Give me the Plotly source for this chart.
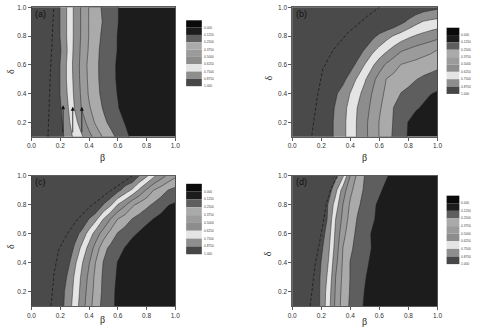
import plotly.graph_objects as go

W, H = 480, 331

beta = [0.0, 0.05, 0.1, 0.15, 0.2, 0.25, 0.3, 0.35, 0.4, 0.45, 0.5,
        0.55, 0.6, 0.65, 0.7, 0.75, 0.8, 0.85, 0.9, 0.95, 1.0]
delta = [0.1, 0.2, 0.3, 0.4, 0.5, 0.6, 0.7, 0.8, 0.9, 1.0]

# z rows: one per delta (ascending), one value per beta
z_a = [
    [1, 1, 1, 1, 0.93, 0.82, 0.72, 0.64, 0.54, 0.45, 0.36, 0.29, 0.225, 0.16, 0.10, 0.05, 0, 0, 0, 0, 0],
    [1, 1, 1, 1, 0.91, 0.79, 0.67, 0.56, 0.45, 0.35, 0.28, 0.22, 0.17, 0.12, 0.06, 0, 0, 0, 0, 0, 0],
    [1, 1, 1, 1, 0.89, 0.77, 0.62, 0.49, 0.39, 0.31, 0.24, 0.19, 0.135, 0.07, 0, 0, 0, 0, 0, 0, 0],
    [1, 1, 1, 1, 0.87, 0.745, 0.60, 0.475, 0.36, 0.28, 0.22, 0.17, 0.12, 0.06, 0, 0, 0, 0, 0, 0, 0],
    [1, 1, 1, 1, 0.87, 0.73, 0.59, 0.46, 0.35, 0.27, 0.215, 0.165, 0.11, 0.05, 0, 0, 0, 0, 0, 0, 0],
    [1, 1, 1, 1, 0.87, 0.73, 0.58, 0.46, 0.34, 0.27, 0.21, 0.16, 0.11, 0.05, 0, 0, 0, 0, 0, 0, 0],
    [1, 1, 1, 1, 0.89, 0.745, 0.59, 0.47, 0.36, 0.275, 0.215, 0.17, 0.12, 0.06, 0, 0, 0, 0, 0, 0, 0],
    [1, 1, 1, 1, 0.87, 0.735, 0.60, 0.48, 0.37, 0.29, 0.225, 0.175, 0.12, 0.06, 0, 0, 0, 0, 0, 0, 0],
    [1, 1, 1, 1, 0.87, 0.735, 0.60, 0.48, 0.37, 0.30, 0.24, 0.19, 0.13, 0.065, 0, 0, 0, 0, 0, 0, 0],
    [1, 1, 1, 1, 0.87, 0.735, 0.60, 0.48, 0.37, 0.29, 0.23, 0.18, 0.13, 0.07, 0, 0, 0, 0, 0, 0, 0],
]
z_b = [
    [1, 1, 1, 1, 1, 0.92, 0.85, 0.78, 0.70, 0.61, 0.53, 0.45, 0.37, 0.30, 0.23, 0.17, 0.115, 0.06, 0, 0, 0],
    [1, 1, 1, 1, 1, 0.92, 0.85, 0.78, 0.70, 0.61, 0.53, 0.45, 0.37, 0.30, 0.24, 0.18, 0.12, 0.07, 0.02, 0, 0],
    [1, 1, 1, 1, 1, 0.93, 0.86, 0.79, 0.71, 0.62, 0.55, 0.47, 0.39, 0.32, 0.245, 0.21, 0.18, 0.14, 0.11, 0.08, 0.05],
    [1, 1, 1, 1, 1, 1, 0.89, 0.82, 0.745, 0.66, 0.58, 0.495, 0.41, 0.35, 0.30, 0.245, 0.22, 0.19, 0.16, 0.13, 0.11],
    [1, 1, 1, 1, 1, 1, 1, 0.91, 0.82, 0.73, 0.64, 0.54, 0.45, 0.37, 0.34, 0.31, 0.285, 0.255, 0.23, 0.21, 0.19],
    [1, 1, 1, 1, 1, 1, 1, 1, 0.93, 0.84, 0.745, 0.65, 0.555, 0.48, 0.42, 0.37, 0.35, 0.335, 0.315, 0.30, 0.28],
    [1, 1, 1, 1, 1, 1, 1, 1, 1, 0.94, 0.86, 0.78, 0.71, 0.64, 0.575, 0.51, 0.48, 0.45, 0.425, 0.40, 0.37],
    [1, 1, 1, 1, 1, 1, 1, 1, 1, 1, 1, 0.91, 0.85, 0.795, 0.74, 0.695, 0.65, 0.615, 0.59, 0.565, 0.54],
    [1, 1, 1, 1, 1, 1, 1, 1, 1, 1, 1, 1, 1, 1, 0.97, 0.91, 0.85, 0.79, 0.745, 0.725, 0.71],
    [1, 1, 1, 1, 1, 1, 1, 1, 1, 1, 1, 1, 1, 1, 1, 1, 1, 0.97, 0.94, 0.92, 0.90],
]
z_c = [
    [1, 1, 1, 1, 0.93, 0.82, 0.70, 0.56, 0.425, 0.30, 0.215, 0.155, 0.10, 0.05, 0, 0, 0, 0, 0, 0, 0],
    [1, 1, 1, 1, 0.94, 0.83, 0.72, 0.58, 0.445, 0.32, 0.225, 0.16, 0.10, 0.05, 0, 0, 0, 0, 0, 0, 0],
    [1, 1, 1, 1, 1, 0.86, 0.735, 0.60, 0.47, 0.33, 0.23, 0.17, 0.11, 0.05, 0, 0, 0, 0, 0, 0, 0],
    [1, 1, 1, 1, 1, 0.92, 0.78, 0.64, 0.51, 0.36, 0.245, 0.185, 0.12, 0.06, 0, 0, 0, 0, 0, 0, 0],
    [1, 1, 1, 1, 1, 1, 0.85, 0.72, 0.58, 0.44, 0.29, 0.22, 0.17, 0.12, 0.07, 0.02, 0, 0, 0, 0, 0],
    [1, 1, 1, 1, 1, 1, 0.94, 0.83, 0.70, 0.56, 0.44, 0.33, 0.24, 0.195, 0.15, 0.11, 0.07, 0.03, 0, 0, 0],
    [1, 1, 1, 1, 1, 1, 1, 1, 0.87, 0.77, 0.62, 0.495, 0.37, 0.31, 0.245, 0.205, 0.16, 0.12, 0.09, 0.06, 0.04],
    [1, 1, 1, 1, 1, 1, 1, 1, 1, 1, 0.87, 0.77, 0.62, 0.52, 0.40, 0.33, 0.28, 0.23, 0.18, 0.13, 0.11],
    [1, 1, 1, 1, 1, 1, 1, 1, 1, 1, 1, 1, 0.91, 0.82, 0.725, 0.60, 0.48, 0.37, 0.31, 0.245, 0.21],
    [1, 1, 1, 1, 1, 1, 1, 1, 1, 1, 1, 1, 1, 1, 1, 0.87, 0.77, 0.65, 0.555, 0.47, 0.40],
]
z_d = [
    [1, 1, 1, 1, 0.84, 0.675, 0.465, 0.32, 0.23, 0.17, 0.11, 0.06, 0, 0, 0, 0, 0, 0, 0, 0, 0],
    [1, 1, 1, 1, 0.84, 0.69, 0.48, 0.33, 0.24, 0.18, 0.12, 0.06, 0, 0, 0, 0, 0, 0, 0, 0, 0],
    [1, 1, 1, 1, 0.85, 0.72, 0.495, 0.345, 0.245, 0.19, 0.135, 0.08, 0.03, 0, 0, 0, 0, 0, 0, 0, 0],
    [1, 1, 1, 1, 0.87, 0.745, 0.535, 0.355, 0.245, 0.20, 0.155, 0.10, 0.05, 0, 0, 0, 0, 0, 0, 0, 0],
    [1, 1, 1, 1, 0.90, 0.775, 0.57, 0.37, 0.27, 0.21, 0.165, 0.12, 0.07, 0.02, 0, 0, 0, 0, 0, 0, 0],
    [1, 1, 1, 1, 0.94, 0.805, 0.595, 0.415, 0.30, 0.22, 0.17, 0.115, 0.06, 0, 0, 0, 0, 0, 0, 0, 0],
    [1, 1, 1, 1, 1, 0.845, 0.62, 0.465, 0.325, 0.24, 0.19, 0.145, 0.09, 0.04, 0, 0, 0, 0, 0, 0, 0],
    [1, 1, 1, 1, 1, 0.86, 0.69, 0.495, 0.355, 0.27, 0.21, 0.155, 0.10, 0.05, 0, 0, 0, 0, 0, 0, 0],
    [1, 1, 1, 1, 1, 0.94, 0.78, 0.56, 0.405, 0.305, 0.23, 0.19, 0.145, 0.09, 0.04, 0, 0, 0, 0, 0, 0],
    [1, 1, 1, 1, 1, 1, 0.90, 0.765, 0.495, 0.34, 0.245, 0.21, 0.175, 0.135, 0.09, 0.04, 0, 0, 0, 0, 0],
]

# dashed reference curves (beta, delta)
dash_a_beta = [0.115, 0.12, 0.13, 0.14, 0.15, 0.155]
dash_a_delta = [0.1, 0.3, 0.5, 0.7, 0.9, 1.0]
dash_b_beta = [0.135, 0.17, 0.21, 0.28, 0.38, 0.52, 0.60]
dash_b_delta = [0.11, 0.36, 0.57, 0.70, 0.82, 0.94, 1.0]
dash_c_beta = [0.136, 0.158, 0.19, 0.25, 0.32, 0.41, 0.54, 0.66, 0.70]
dash_c_delta = [0.10, 0.33, 0.49, 0.60, 0.70, 0.79, 0.89, 0.97, 1.0]
dash_d_beta = [0.124, 0.157, 0.20, 0.236, 0.27, 0.315]
dash_d_delta = [0.10, 0.38, 0.60, 0.81, 0.92, 1.0]

# arrows in panel (a)
arrow_beta = [0.22, 0.287, 0.35]
arrow_from = [0.12, 0.12, 0.12]
arrow_to = [0.32, 0.31, 0.31]

levels_text = ["0.000", "0.1250", "0.2500", "0.3750", "0.5000", "0.6250", "0.7500", "0.8750", "1.000"]
legend_colors = ["#0a0a0a", "#1c1c1c", "#5e5e5e", "#aaaaaa", "#9b9b9b", "#8d8d8d", "#e4e4e4", "#8e8e8e", "#474747"]
band_colors = ["#1c1c1c", "#5e5e5e", "#aaaaaa", "#9b9b9b", "#8d8d8d", "#e4e4e4", "#8e8e8e", "#4a4a4a"]
colorscale = [[k / 7, c] for k, c in enumerate(band_colors)]

# panel geometry in pixels: (x0, x1, ytop, ybottom)
panels = {
    "a": (27, 174, 3.3, 134.5),
    "b": (293.3, 441.7, 3.3, 134.5),
    "c": (27, 174, 174, 305.6),
    "d": (293.3, 441.7, 174, 305.6),
}
legend_px = {
    "a": (185, 201, 16.5, 83.2),
    "b": (451, 464, 24, 91),
    "c": (185, 201, 182, 253.3),
    "d": (451, 464, 194, 263.3),
}
title_pos = {
    "a": ((100, 155), (5, 68)),
    "b": ((367, 155), (269, 75)),
    "c": ((100, 319), (5, 245)),
    "d": ((367, 321), (269, 253)),
}

fig = go.Figure()
zs = {"a": z_a, "b": z_b, "c": z_c, "d": z_d}
dashes = {"a": (dash_a_beta, dash_a_delta), "b": (dash_b_beta, dash_b_delta),
          "c": (dash_c_beta, dash_c_delta), "d": (dash_d_beta, dash_d_delta)}

def px_x(v):
    return v / W

def px_y(v):
    return 1 - v / H

shapes = []
annotations = []
axis_font = dict(family="Liberation Sans, Arial, sans-serif", size=6.5, color="#333333")

for i, key in enumerate(["a", "b", "c", "d"]):
    n = "" if i == 0 else str(i + 1)
    xa, ya = "x" + n, "y" + n
    fig.add_trace(go.Contour(
        x=beta, y=delta, z=zs[key], xaxis=xa, yaxis=ya,
        autocontour=False,
        contours=dict(start=0.125, end=0.875, size=0.125, coloring="fill", showlines=True),
        colorscale=colorscale, showscale=False,
        line=dict(color="#222222", width=0.5, smoothing=0),
        hoverinfo="skip",
    ))
    db, dd = dashes[key]
    fig.add_trace(go.Scatter(x=db, y=dd, xaxis=xa, yaxis=ya, mode="lines",
                             line=dict(color="#1a1a1a", width=0.8, dash="3px,2px"),
                             showlegend=False, hoverinfo="skip"))
    x0, x1, yt, yb = panels[key]
    fig.layout["xaxis" + n] = dict(
        domain=[px_x(x0), px_x(x1)], anchor=ya, range=[0, 1],
        tickvals=[0, 0.2, 0.4, 0.6, 0.8, 1.0], ticktext=["0.0", "0.2", "0.4", "0.6", "0.8", "1.0"],
        ticks="outside", ticklen=3, tickwidth=0.8, tickcolor="#333",
        showline=True, linecolor="#333", linewidth=0.8, mirror=True,
        showgrid=False, zeroline=False, tickfont=axis_font,
    )
    fig.layout["yaxis" + n] = dict(
        domain=[px_y(yb), px_y(yt)], anchor=xa, range=[0.1, 1.0],
        tickvals=[0.2, 0.4, 0.6, 0.8, 1.0], ticktext=["0.2", "0.4", "0.6", "0.8", "1.0"],
        ticks="outside", ticklen=3, tickwidth=0.8, tickcolor="#333",
        showline=True, linecolor="#333", linewidth=0.8, mirror=True,
        showgrid=False, zeroline=False, tickfont=axis_font,
    )
    annotations.append(dict(text="(" + key + ")", x=px_x(x0 + 2), y=px_y(yt + 6.5), xref="paper", yref="paper",
                            xanchor="left", yanchor="middle", showarrow=False,
                            font=dict(family="Liberation Sans, Arial, sans-serif", size=9, color="#111")))
    (bx, by), (dx, dy) = title_pos[key]
    annotations.append(dict(text="β", x=px_x(bx), y=px_y(by), xref="paper", yref="paper",
                            xanchor="center", yanchor="middle", showarrow=False,
                            font=dict(family="Liberation Serif, serif", size=10, color="#222")))
    annotations.append(dict(text="δ", x=px_x(dx), y=px_y(dy), xref="paper", yref="paper",
                            xanchor="center", yanchor="middle", showarrow=False, textangle=-90,
                            font=dict(family="Liberation Serif, serif", size=10, color="#222")))
    lx0, lx1, ly0, ly1 = legend_px[key]
    step = (ly1 - ly0) / 9
    for k, c in enumerate(legend_colors):
        shapes.append(dict(type="rect", xref="paper", yref="paper",
                           x0=px_x(lx0), x1=px_x(lx1), y0=px_y(ly0 + step * (k + 1)), y1=px_y(ly0 + step * k),
                           fillcolor=c, line=dict(width=0)))
        annotations.append(dict(text=levels_text[k], x=px_x(lx1 + 1), y=px_y(ly0 + step * (k + 1)),
                                xref="paper", yref="paper", xanchor="left", yanchor="middle", showarrow=False,
                                borderpad=0, font=dict(family="Liberation Sans, Arial, sans-serif", size=3.2, color="#444")))

for b, f, t in zip(arrow_beta, arrow_from, arrow_to):
    annotations.append(dict(x=b, y=t, ax=b, ay=f, xref="x", yref="y", axref="x", ayref="y",
                            text="", showarrow=True, arrowhead=2, arrowsize=1, arrowwidth=0.8,
                            arrowcolor="#111"))

fig.update_layout(
    width=W, height=H, margin=dict(l=0, r=0, t=0, b=0),
    paper_bgcolor="white", plot_bgcolor="white", showlegend=False,
    shapes=shapes, annotations=annotations,
)

fig.write_html("out.html", config={"displayModeBar": False, "staticPlot": True},
               post_script="document.body.style.margin='0';document.body.style.overflow='hidden';")
